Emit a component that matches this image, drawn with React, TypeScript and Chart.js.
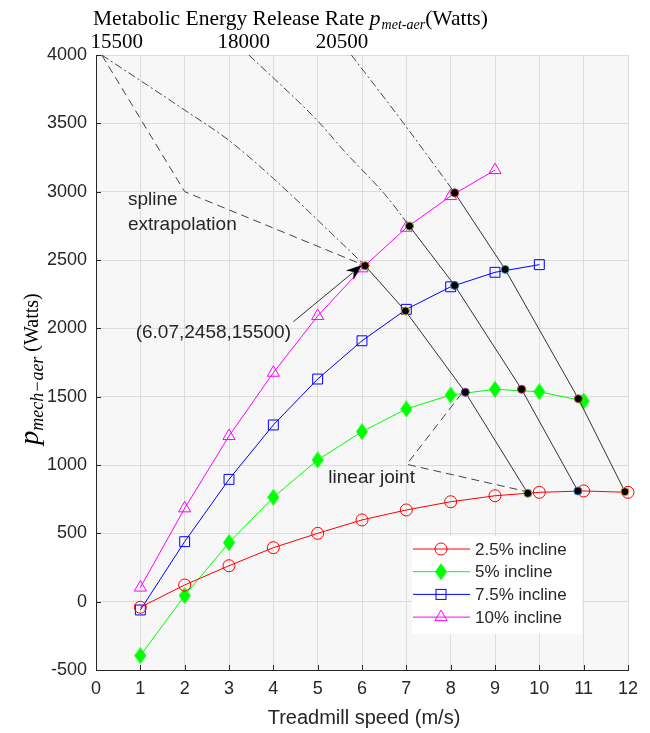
import React, { useEffect, useRef } from 'react';
import { Chart, registerables } from 'chart.js';

Chart.register(...registerables);

// ---------- data ----------
const speeds = [1, 2, 3, 4, 5, 6, 7, 8, 9, 10, 11, 12];
const incline25 = [-41, 122, 263, 395, 500, 598, 671, 731, 775, 800, 810, 800];
const incline5 = [-395, 44, 432, 764, 1037, 1244, 1410, 1512, 1554, 1536, 1468];
const incline75 = [-61, 439, 895, 1293, 1629, 1909, 2139, 2304, 2410, 2466];
const incline10 = [103, 683, 1212, 1675, 2090, 2439, 2736, 2968, 3158];

const seriesLabels = ['2.5% incline', '5% incline', '7.5% incline', '10% incline'];

// joints (iso-metabolic lines) for 15500, 18000, 20500 W
const joint15500X = [6.07, 6.98, 8.33, 9.74];
const joint15500Y = [2458, 2127, 1532, 793];
const joint18000X = [7.07, 8.09, 9.6, 10.87];
const joint18000Y = [2748, 2314, 1554, 810];
const joint20500X = [8.09, 9.23, 10.88, 11.93];
const joint20500Y = [2992, 2431, 1485, 805];

// spline extrapolations to the top axis
const spline15500X = [0.13, 2, 2.99, 4, 5.43, 6.07];
const spline15500Y = [4000, 3597, 3377, 3097, 2658, 2458];
const spline18000X = [3.45, 5.02, 5.58, 6.56, 7.07];
const spline18000Y = [4000, 3511, 3304, 2963, 2748];
const spline20500X = [5.76, 6.94, 8.09];
const spline20500Y = [4000, 3500, 2992];

// annotation pointer lines
const splineNoteX = [0.13, 2.0, 6.07];
const splineNoteY = [4000, 3000, 2458];
const jointNoteX = [8.25, 7.01, 9.72];
const jointNoteY = [1524, 1005, 805];
const arrowFrom = [4.45, 2048];
const arrowTo = [6.0, 2463];

const noteLabels = ['spline', 'extrapolation', '(6.07,2458,15500)', 'linear joint'];
const noteX = [0.72, 0.72, 0.895, 5.24];
const noteY = [2900, 2719, 1927, 866];

// top axis (metabolic energy release rate)
const topTickLabels = ['15500', '18000', '20500'];
const topTickPos = [0.47, 3.33, 5.55];

const xTickMin = 0, xTickMax = 12, xStep = 1;
const yTickMin = -500, yTickMax = 4000, yStep = 500;

// ---------- styling ----------
const sans = '"Liberation Sans", Arial, sans-serif';
const serif = '"Liberation Serif", "Times New Roman", serif';
const textColor = '#262626';

const zip = (xs: number[], ys: number[]) => xs.map((v, i) => ({ x: v, y: ys[i] }));

function makeDiamond(): HTMLCanvasElement {
  const c = document.createElement('canvas');
  c.width = 12; c.height = 17;
  const g = c.getContext('2d')!;
  g.fillStyle = '#00ff00';
  g.beginPath();
  g.moveTo(6, 0); g.lineTo(12, 8.5); g.lineTo(6, 17); g.lineTo(0, 8.5);
  g.closePath(); g.fill();
  return c;
}

function drawMarker(ctx: CanvasRenderingContext2D, kind: number, x: number, y: number) {
  ctx.save();
  ctx.lineWidth = 1;
  if (kind === 0) {
    ctx.strokeStyle = '#ff0000';
    ctx.beginPath(); ctx.arc(x, y, 6, 0, Math.PI * 2); ctx.stroke();
  } else if (kind === 1) {
    ctx.fillStyle = '#00ff00';
    ctx.beginPath();
    ctx.moveTo(x, y - 8.5); ctx.lineTo(x + 6, y); ctx.lineTo(x, y + 8.5); ctx.lineTo(x - 6, y);
    ctx.closePath(); ctx.fill();
  } else if (kind === 2) {
    ctx.strokeStyle = '#0000ff';
    ctx.strokeRect(x - 5, y - 5, 10, 10);
  } else {
    ctx.strokeStyle = '#ff00ff';
    const r = 7;
    ctx.beginPath();
    ctx.moveTo(x, y - r);
    ctx.lineTo(x + r * 0.866, y + r / 2);
    ctx.lineTo(x - r * 0.866, y + r / 2);
    ctx.closePath(); ctx.stroke();
  }
  ctx.restore();
}

const decoPlugin = {
  id: 'deco',
  beforeDraw(chart: any) {
    const { ctx, chartArea: a } = chart;
    ctx.save();
    ctx.fillStyle = '#ffffff';
    ctx.fillRect(0, 0, chart.width, chart.height);
    ctx.fillStyle = '#f7f7f7';
    ctx.fillRect(a.left, a.top, a.right - a.left, a.bottom - a.top);
    ctx.restore();
  },
  afterDatasetsDraw(chart: any) {
    const { ctx, chartArea: a } = chart;
    const xs = chart.scales.x, ys = chart.scales.y;
    ctx.save();
    // inward tick marks
    ctx.strokeStyle = textColor; ctx.lineWidth = 1;
    ctx.beginPath();
    for (let v = yTickMin; v <= yTickMax; v += yStep) {
      const py = Math.round(ys.getPixelForValue(v)) + 0.5;
      ctx.moveTo(a.left, py); ctx.lineTo(a.left + 5, py);
    }
    for (let v = xTickMin; v <= xTickMax; v += xStep) {
      const px = Math.round(xs.getPixelForValue(v)) + 0.5;
      ctx.moveTo(px, a.bottom); ctx.lineTo(px, a.bottom - 5);
    }
    ctx.stroke();

    // annotation texts
    ctx.fillStyle = textColor;
    ctx.font = `19px ${sans}`;
    ctx.textAlign = 'left';
    ctx.textBaseline = 'alphabetic';
    noteLabels.forEach((t, i) => {
      ctx.fillText(t, xs.getPixelForValue(noteX[i]), ys.getPixelForValue(noteY[i]));
    });

    // arrow
    const x0 = xs.getPixelForValue(arrowFrom[0]), y0 = ys.getPixelForValue(arrowFrom[1]);
    const x1 = xs.getPixelForValue(arrowTo[0]), y1 = ys.getPixelForValue(arrowTo[1]);
    const ang = Math.atan2(y1 - y0, x1 - x0);
    const L = 16, W = 6;
    const bx = x1 - Math.cos(ang) * L, by = y1 - Math.sin(ang) * L;
    ctx.strokeStyle = '#333333'; ctx.lineWidth = 1;
    ctx.beginPath(); ctx.moveTo(x0, y0); ctx.lineTo(bx + Math.cos(ang) * 4, by + Math.sin(ang) * 4); ctx.stroke();
    ctx.fillStyle = '#000000';
    ctx.beginPath();
    ctx.moveTo(x1, y1);
    ctx.lineTo(bx - Math.sin(ang) * W, by + Math.cos(ang) * W);
    ctx.lineTo(bx + Math.cos(ang) * 5, by + Math.sin(ang) * 5);
    ctx.lineTo(bx + Math.sin(ang) * W, by - Math.cos(ang) * W);
    ctx.closePath(); ctx.fill();

    // legend
    const boxL = a.right - 216, boxT = a.bottom - 134;
    ctx.fillStyle = '#ffffff';
    ctx.fillRect(boxL, boxT, 170, 98);
    ctx.font = `17px ${sans}`;
    ctx.textBaseline = 'middle';
    const colors = ['#ff0000', '#00ff00', '#0000ff', '#ff00ff'];
    seriesLabels.forEach((lab, i) => {
      const yy = boxT + 13 + i * 22.7;
      ctx.strokeStyle = colors[i]; ctx.lineWidth = 1;
      ctx.beginPath(); ctx.moveTo(boxL + 1, yy); ctx.lineTo(boxL + 58, yy); ctx.stroke();
      drawMarker(ctx, i, boxL + 29, yy);
      ctx.fillStyle = textColor;
      ctx.fillText(lab, boxL + 63, yy + 1);
    });
    ctx.restore();
  },
  afterDraw(chart: any) {
    const { ctx, chartArea: a } = chart;
    const xs = chart.scales.x;
    ctx.save();
    ctx.fillStyle = '#000000';
    ctx.textBaseline = 'alphabetic';
    ctx.textAlign = 'left';
    // top title
    let cx = 93;
    const base = 25;
    ctx.font = `21.5px ${serif}`;
    const t1 = 'Metabolic Energy Release Rate ';
    ctx.fillText(t1, cx, base); cx += ctx.measureText(t1).width;
    ctx.font = `italic 22px ${serif}`;
    ctx.fillText('p', cx, base); cx += ctx.measureText('p').width + 1;
    ctx.font = `italic 14px ${serif}`;
    ctx.fillText('met-aer', cx, base + 4); cx += ctx.measureText('met-aer').width;
    ctx.font = `21.5px ${serif}`;
    ctx.fillText('(Watts)', cx, base);
    // top ticks
    ctx.textAlign = 'center';
    ctx.font = `21px ${serif}`;
    topTickLabels.forEach((t, i) => {
      ctx.fillText(t, xs.getPixelForValue(topTickPos[i]), 48);
    });

    // x title
    ctx.fillStyle = textColor;
    ctx.font = `20px ${sans}`;
    ctx.fillText('Treadmill speed (m/s)', (a.left + a.right) / 2 + 2, 724);

    // y title (rotated)
    ctx.save();
    ctx.translate(41, 369);
    ctx.rotate(-Math.PI / 2);
    ctx.fillStyle = '#000000';
    const parts = [
      { t: 'p', f: `italic 28px ${serif}`, dy: 0 },
      { t: 'mech\u2212aer', f: `italic 18px ${serif}`, dy: 5 },
      { t: ' (Watts)', f: `20px ${serif}`, dy: 0 },
    ];
    let total = 0;
    parts.forEach(p => { ctx.font = p.f; total += ctx.measureText(p.t).width; });
    let px = -total / 2;
    ctx.textAlign = 'left';
    parts.forEach(p => {
      ctx.font = p.f;
      ctx.fillText(p.t, px, p.dy - 3);
      px += ctx.measureText(p.t).width;
    });
    ctx.restore();
    ctx.restore();
  },
};

export default function App() {
  const ref = useRef<HTMLCanvasElement | null>(null);
  useEffect(() => {
    if (!ref.current) return;
    const diamond = makeDiamond();
    const jointLine = (xs: number[], ys: number[], borders: string[]) => ({
      data: zip(xs, ys),
      showLine: true,
      borderColor: '#333333',
      borderWidth: 1,
      pointRadius: 4,
      pointBackgroundColor: '#000000',
      pointBorderColor: borders,
      pointBorderWidth: 1,
      clip: false,
    });
    const grayLine = (xs: number[], ys: number[], dash: number[], smooth: boolean) => ({
      data: zip(xs, ys),
      showLine: true,
      borderColor: '#444444',
      borderWidth: 1,
      borderDash: dash,
      pointRadius: 0,
      tension: smooth ? 0.3 : 0,
      cubicInterpolationMode: smooth ? 'monotone' : 'default',
    });
    const series = (ys: number[], color: string, style: any, radius: number, fill: string) => ({
      data: zip(speeds.slice(0, ys.length), ys),
      showLine: true,
      borderColor: color,
      borderWidth: 1,
      pointStyle: style,
      pointRadius: radius,
      pointBorderColor: color,
      pointBackgroundColor: fill,
      pointBorderWidth: 1,
      clip: false,
    });
    const chart = new Chart(ref.current, {
      type: 'scatter',
      data: {
        datasets: [
          jointLine(joint15500X, joint15500Y, ['#d2691e', '#d2a040', '#8040a0', '#80a040']),
          jointLine(joint18000X, joint18000Y, ['#80a040', '#3070c0', '#c03040', '#3080c0']),
          jointLine(joint20500X, joint20500Y, ['#c03030', '#40a0d0', '#d06030', '#e0a030']),
          series(incline25, '#ff0000', 'circle', 6, 'rgba(0,0,0,0)'),
          series(incline5, '#00ff00', diamond, 8, '#00ff00'),
          series(incline75, '#0000ff', 'rect', 7, 'rgba(0,0,0,0)'),
          series(incline10, '#ff00ff', 'triangle', 7, 'rgba(0,0,0,0)'),
          grayLine(spline15500X, spline15500Y, [8, 3, 2, 3], true),
          grayLine(spline18000X, spline18000Y, [8, 3, 2, 3], true),
          grayLine(spline20500X, spline20500Y, [8, 3, 2, 3], true),
          grayLine(splineNoteX, splineNoteY, [8, 5], false),
          grayLine(jointNoteX, jointNoteY, [8, 5], false),
        ] as any,
      },
      options: {
        responsive: false,
        animation: false,
        events: [],
        layout: { padding: { left: 0, top: 55, right: 22, bottom: 0 } },
        plugins: { legend: { display: false }, tooltip: { enabled: false } },
        scales: {
          x: {
            type: 'linear',
            min: xTickMin,
            max: xTickMax,
            ticks: {
              stepSize: xStep, padding: 8, maxRotation: 0, color: textColor,
              font: { family: sans, size: 18 },
              callback: (v: any) => String(v),
            },
            grid: { color: '#dcdcdc', drawTicks: false },
            border: { color: textColor },
            afterFit: (s: any) => { s.height = 63; },
          },
          y: {
            type: 'linear',
            min: yTickMin,
            max: yTickMax,
            ticks: {
              stepSize: yStep, padding: 9, color: textColor,
              font: { family: sans, size: 18 },
              callback: (v: any) => String(v),
            },
            grid: { color: '#dcdcdc', drawTicks: false },
            border: { color: textColor },
            afterFit: (s: any) => { s.width = 96; },
          },
        },
      } as any,
      plugins: [decoPlugin],
    });
    return () => chart.destroy();
  }, []);
  return (
    <div style={{ position: 'absolute', left: 0, top: 0, width: 650, height: 733 }}>
      <canvas ref={ref} width={650} height={733} style={{ width: 650, height: 733, display: 'block' }} />
    </div>
  );
}
